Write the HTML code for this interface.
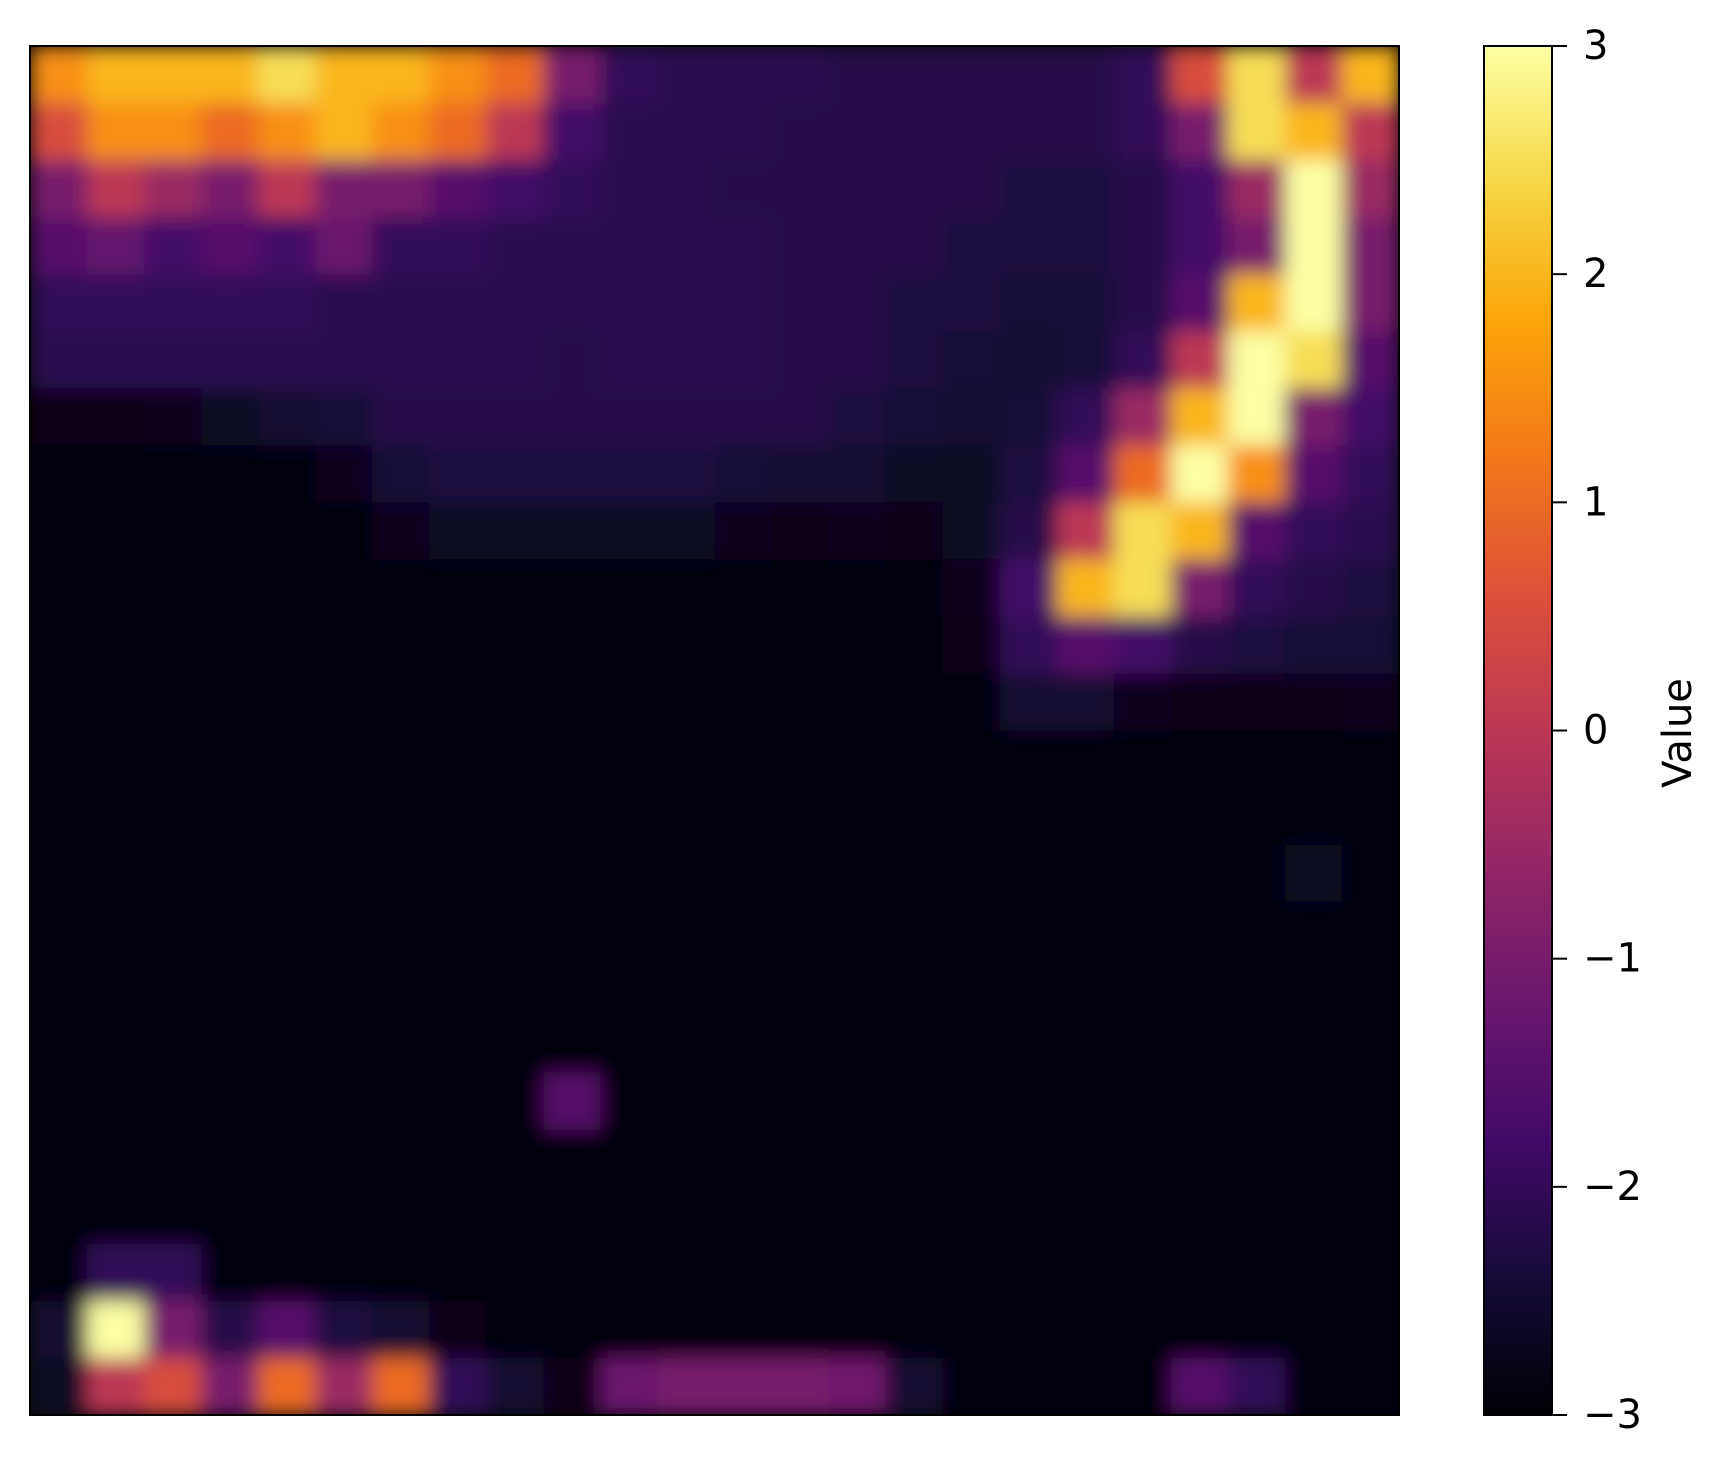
<!DOCTYPE html>
<html><head><meta charset="utf-8">
<style>
html,body{margin:0;padding:0;background:#fff;}
svg{display:block;}
text{font-family:"DejaVu Sans","Liberation Sans",sans-serif;fill:#000;}
</style></head>
<body>
<svg id="chart" width="1731" height="1469" viewBox="0 0 1731 1469" xmlns="http://www.w3.org/2000/svg">
<defs>
<linearGradient id="cbgrad" x1="0" y1="1" x2="0" y2="0">
<stop offset="0" stop-color="#000004"/><stop offset="0.1" stop-color="#160b39"/>
<stop offset="0.2" stop-color="#420a68"/><stop offset="0.3" stop-color="#6a176e"/>
<stop offset="0.4" stop-color="#932667"/><stop offset="0.5" stop-color="#bc3754"/>
<stop offset="0.6" stop-color="#dd513a"/><stop offset="0.7" stop-color="#f37819"/>
<stop offset="0.8" stop-color="#fca50a"/><stop offset="0.9" stop-color="#f6d746"/>
<stop offset="1" stop-color="#fcffa4"/>
</linearGradient>
<filter id="soft" x="0" y="0" width="1" height="1"><feGaussianBlur stdDeviation="10"/></filter>
<clipPath id="plotclip"><rect x="30" y="46" width="1369" height="1369"/></clipPath>
</defs>
<g id="cells" clip-path="url(#plotclip)"></g>
<rect x="30" y="46" width="1369" height="1369" fill="none" stroke="#000" stroke-width="2"/>
<rect x="1484" y="46" width="68" height="1369" fill="url(#cbgrad)" stroke="#000" stroke-width="2"/>
<g id="cbticks"></g>
<text x="1678" y="733" font-size="40" text-anchor="middle" dominant-baseline="central" transform="rotate(-90 1678 733)">Value</text>
</svg>
<script>
const P=-2.1, D=-2.97;
const gridRows=[
[1.5,2,2,2,2.5,2,2,1.5,1,-1,-2,-2.1,-2.1,-2.1,-2.2,-2.2,-2.2,-2.2,-2.2,-2,0.5,2.5,0,2],
[0.5,1.5,1.5,1,1.5,2,1.5,1,0,-1.8,-2.1,-2.1,-2.1,-2.2,-2.2,-2.2,-2.2,-2.2,-2.2,-2,-1,2.5,2,0],
[-1,0,-0.5,-1,0,-1,-1,-1.5,-1.8,-2,-2.1,-2.1,-2.2,-2.2,-2.2,-2.2,-2.2,-2.3,-2.3,-2.2,-1.8,-0.5,3,-0.5],
[-1.5,-1.3,-1.8,-1.5,-1.8,-1.2,-2,-2,-2.1,-2.1,-2.1,-2.1,-2.1,-2.2,-2.2,-2.2,-2.3,-2.3,-2.3,-2.2,-1.8,-1,3,-1],
[-2,-2,-2,-2,-2,-2.1,-2.1,-2.1,-2.1,-2.1,-2.1,-2.1,-2.1,-2.2,-2.2,-2.3,-2.3,-2.4,-2.4,-2.2,-1.5,2,3,-1],
[-2.1,-2.1,-2.1,-2.1,-2.1,-2.1,-2.1,-2.1,-2.1,-2.2,-2.1,-2.1,-2.1,-2.2,-2.2,-2.3,-2.4,-2.5,-2.4,-2,0,3,2.5,-1.5],
[-2.8,-2.8,-2.7,-2.6,-2.5,-2.4,-2.2,-2.2,-2.2,-2.2,-2.2,-2.2,-2.2,-2.2,-2.3,-2.4,-2.5,-2.4,-2,-0.5,2,3,-1,-1.8],
[-2.95,-2.95,-2.9,-2.9,-2.85,-2.7,-2.4,-2.3,-2.3,-2.3,-2.3,-2.3,-2.4,-2.5,-2.5,-2.6,-2.6,-2.3,-1.5,1,3,1.5,-1.5,-2],
[-2.97,-2.97,-2.97,-2.95,-2.95,-2.9,-2.7,-2.6,-2.6,-2.6,-2.6,-2.6,-2.7,-2.8,-2.7,-2.8,-2.6,-2.2,0,2.5,2,-1.5,-2,-2.1],
[D,D,D,D,D,D,-2.95,-2.9,-2.85,-2.9,-2.9,-2.9,-2.9,-2.9,-2.9,-2.9,-2.7,-1.8,2,2.5,-1,-2,-2.2,-2.3],
[D,D,D,D,D,D,D,D,D,D,D,D,D,D,D,D,-2.8,-2,-1.5,-1.8,-2.2,-2.3,-2.4,-2.4],
[D,D,D,D,D,D,D,D,D,D,D,D,D,D,D,D,D,-2.5,-2.5,-2.7,-2.8,-2.8,-2.8,-2.7],
[D,D,D,D,D,D,D,D,D,D,D,D,D,D,D,D,D,D,D,D,D,D,D,-2.9],
[D,D,D,D,D,D,D,D,D,D,D,D,D,D,D,D,D,D,D,D,D,D,D,D],
[D,D,D,D,D,D,D,D,D,D,D,D,D,D,D,D,D,D,D,D,D,D,-2.6,D],
[D,D,D,D,D,D,D,D,D,D,D,D,D,D,D,D,D,D,D,D,D,D,D,D],
[D,D,D,D,D,D,D,D,D,D,D,D,D,D,D,D,D,D,D,D,D,D,D,D],
[D,D,D,D,D,D,D,D,D,D,D,D,D,D,D,D,D,D,D,D,D,D,D,D],
[D,D,D,D,D,D,D,D,D,-1.5,D,D,D,D,D,D,D,D,D,D,D,D,D,D],
[D,D,D,D,D,D,D,D,D,D,D,D,D,D,D,D,D,D,D,D,D,D,D,D],
[D,D,D,D,D,D,D,D,D,D,D,D,D,D,D,D,D,D,D,D,D,D,D,D],
[D,-2,-2,D,D,D,D,D,D,D,D,D,D,D,D,D,D,D,D,D,D,D,D,D],
[-2.5,3,-1,-2.2,-1.5,-2.3,-2.5,-2.8,D,D,D,D,D,D,D,D,D,D,D,D,D,D,D,D],
[-2.6,0,0.5,-1,1,-0.5,1,-2,-2.5,-2.8,-1.2,-1,-1,-1,-1.1,-2.5,D,D,D,D,-1.5,-2,D,D]
];
const tickValues=[-3,-2,-1,0,1,2,3];
const tickLabels=["\u22123","\u22122","\u22121","0","1","2","3"];
const vmin=-3, vmax=3;

const X0=30,Y0=46,W=1369,H=1369;
const stops=["#000004","#160b39","#420a68","#6a176e","#932667","#bc3754","#dd513a","#f37819","#fca50a","#f6d746","#fcffa4"];
function hex(h){return [parseInt(h.substr(1,2),16),parseInt(h.substr(3,2),16),parseInt(h.substr(5,2),16)];}
function cmap(v){
  let t=(v-vmin)/(vmax-vmin); t=Math.max(0,Math.min(1,t));
  const f=t*10, i=Math.min(9,Math.floor(f)), u=f-i;
  const a=hex(stops[i]), b=hex(stops[i+1]);
  return "rgb("+a.map((c,k)=>Math.round(c+(b[k]-c)*u)).join(",")+")";
}
const nR=gridRows.length, nC=gridRows[0].length;
function xScale(c){return X0+c*W/nC;}
function yScale(r){return Y0+r*H/nR;}
function cbY(v){return Y0+H-(v-vmin)/(vmax-vmin)*H;}
const NS="http://www.w3.org/2000/svg";
const g=document.getElementById("cells");
const bg=document.createElementNS(NS,"rect");
bg.setAttribute("x",X0);bg.setAttribute("y",Y0);bg.setAttribute("width",W);bg.setAttribute("height",H);
bg.setAttribute("fill",cmap(D));


g.appendChild(bg);
const inner=document.createElementNS(NS,"g");
inner.setAttribute("filter","url(#soft)");


g.appendChild(inner);
for(let r=0;r<nR;r++)for(let c=0;c<nC;c++){
  const rc=document.createElementNS(NS,"rect");
  rc.setAttribute("x",xScale(c));rc.setAttribute("y",yScale(r));
  rc.setAttribute("width",W/nC+0.6);rc.setAttribute("height",H/nR+0.6);
  rc.setAttribute("fill",cmap(gridRows[r][c]));
  
  
  inner.appendChild(rc);
}
const tg=document.getElementById("cbticks");
tickValues.forEach((v,i)=>{
  const y=cbY(v);
  const ln=document.createElementNS(NS,"line");
  ln.setAttribute("x1",1552);ln.setAttribute("x2",1567);ln.setAttribute("y1",y);ln.setAttribute("y2",y);
  ln.setAttribute("stroke","#000");ln.setAttribute("stroke-width","2");
  
  
  tg.appendChild(ln);
  const tx=document.createElementNS(NS,"text");
  tx.setAttribute("x",1583);tx.setAttribute("y",y);
  tx.setAttribute("font-size","40");tx.setAttribute("dominant-baseline","central");
  tx.textContent=tickLabels[i];
  
  
  tg.appendChild(tx);
});
</script>
</body></html>
